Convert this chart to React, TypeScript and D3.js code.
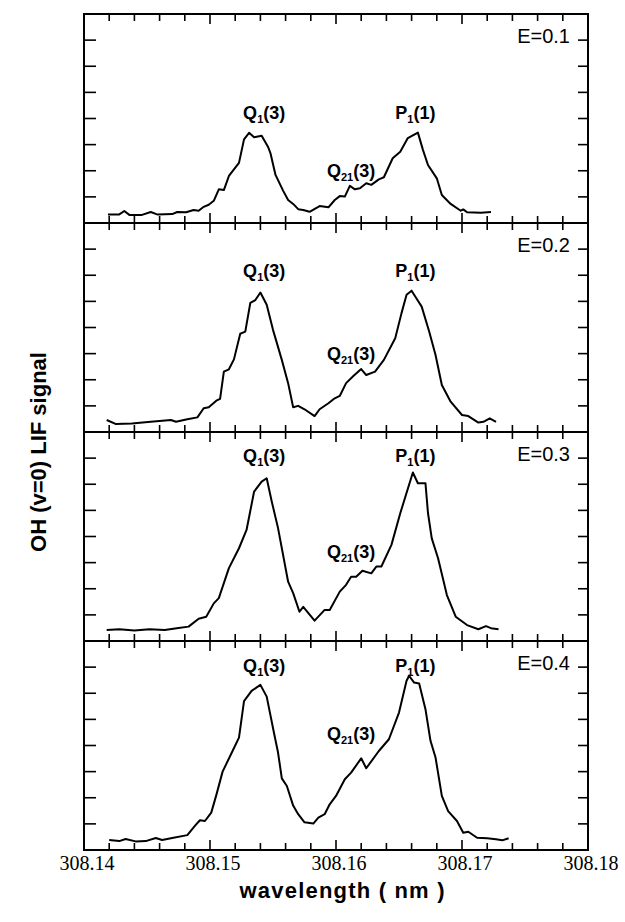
import React from 'react';
import * as d3 from 'd3';

// wavelength (nm) vs. OH (v=0) LIF signal, one panel per E
const energies = ['E=0.1', 'E=0.2', 'E=0.3', 'E=0.4'];
const wavelengthTicks = [308.14, 308.15, 308.16, 308.17, 308.18];

const panel1: [number, number][] = [
  [308.1419, 0.33], [308.1428, 0.33], [308.1432, 0.46], [308.1436, 0.31], [308.1446, 0.31],
  [308.1453, 0.42], [308.1458, 0.33], [308.1470, 0.34], [308.1474, 0.42], [308.1481, 0.41],
  [308.1487, 0.5], [308.1491, 0.47], [308.1495, 0.62], [308.1499, 0.7], [308.1503, 0.85],
  [308.1507, 1.29], [308.1511, 1.26], [308.1515, 1.8], [308.1523, 2.3], [308.1527, 3.2],
  [308.1531, 3.45], [308.1535, 3.28], [308.1541, 3.34], [308.1546, 2.92], [308.1548, 2.67],
  [308.1552, 1.84], [308.1558, 1.24], [308.1562, 0.88], [308.1566, 0.73], [308.1570, 0.53],
  [308.1574, 0.5], [308.1579, 0.43], [308.1587, 0.65], [308.1594, 0.6], [308.1599, 0.88],
  [308.1603, 1.03], [308.1607, 1.01], [308.1611, 1.42], [308.1615, 1.29], [308.1619, 1.33],
  [308.1624, 1.52], [308.1628, 1.46], [308.1634, 1.67], [308.1638, 1.75], [308.1645, 2.48],
  [308.1651, 2.73], [308.1657, 3.25], [308.1665, 3.46], [308.1669, 2.8], [308.1673, 2.22],
  [308.1680, 1.71], [308.1684, 1.07], [308.1691, 0.73], [308.1699, 0.47], [308.1701, 0.52],
  [308.1704, 0.41], [308.1715, 0.39], [308.1723, 0.42],
];

const panel2: [number, number][] = [
  [308.1418, 0.46], [308.1425, 0.31], [308.1438, 0.33], [308.1453, 0.39], [308.1469, 0.46],
  [308.1473, 0.39], [308.1482, 0.49], [308.1490, 0.56], [308.1495, 0.91], [308.1499, 0.95],
  [308.1505, 1.2], [308.1508, 1.27], [308.1511, 2.31], [308.1515, 2.4], [308.1519, 2.78],
  [308.1524, 3.76], [308.1528, 3.84], [308.1532, 4.94], [308.1536, 5.05], [308.1540, 5.34],
  [308.1545, 4.87], [308.1550, 3.91], [308.1557, 2.76], [308.1562, 1.87], [308.1566, 0.95],
  [308.1570, 1.0], [308.1575, 0.87], [308.1583, 0.61], [308.1587, 0.87], [308.1594, 1.1],
  [308.1599, 1.29], [308.1603, 1.38], [308.1608, 1.87], [308.1614, 2.15], [308.1620, 2.41],
  [308.1624, 2.18], [308.1631, 2.31], [308.1638, 2.76], [308.1647, 3.59], [308.1652, 4.55],
  [308.1656, 5.25], [308.1660, 5.41], [308.1663, 5.18], [308.1668, 4.8], [308.1674, 3.84],
  [308.1679, 2.95], [308.1684, 1.8], [308.1691, 1.16], [308.1700, 0.65], [308.1705, 0.61],
  [308.1713, 0.36], [308.1717, 0.39], [308.1722, 0.52], [308.1727, 0.39],
];

const panel3: [number, number][] = [
  [308.1418, 0.42], [308.1428, 0.45], [308.1440, 0.4], [308.1452, 0.45], [308.1464, 0.42],
  [308.1475, 0.5], [308.1483, 0.55], [308.1491, 0.85], [308.1497, 0.93], [308.1503, 1.44],
  [308.1507, 1.64], [308.1515, 2.79], [308.1523, 3.55], [308.1529, 4.25], [308.1535, 5.72],
  [308.1541, 6.1], [308.1545, 6.23], [308.1549, 5.34], [308.1554, 4.32], [308.1562, 2.27],
  [308.1566, 1.83], [308.1571, 1.12], [308.1574, 1.31], [308.1583, 0.78], [308.1591, 1.19],
  [308.1595, 1.19], [308.1603, 1.89], [308.1608, 2.15], [308.1612, 2.46], [308.1616, 2.46],
  [308.1621, 2.69], [308.1628, 2.59], [308.1632, 2.85], [308.1636, 2.85], [308.1644, 3.68],
  [308.1651, 4.89], [308.1661, 6.45], [308.1665, 6.04], [308.1671, 6.04], [308.1673, 4.9],
  [308.1676, 3.93], [308.1681, 3.17], [308.1688, 1.76], [308.1695, 0.93], [308.1704, 0.61],
  [308.1713, 0.45], [308.1719, 0.57], [308.1723, 0.49], [308.1729, 0.45],
];

const panel4: [number, number][] = [
  [308.1420, 0.38], [308.1428, 0.34], [308.1433, 0.42], [308.1441, 0.33], [308.1449, 0.34],
  [308.1457, 0.46], [308.1462, 0.38], [308.1470, 0.46], [308.1482, 0.57], [308.1488, 0.92],
  [308.1492, 1.14], [308.1496, 1.11], [308.1501, 1.43], [308.1505, 2.1], [308.1510, 3.0],
  [308.1518, 3.8], [308.1523, 4.3], [308.1527, 5.7], [308.1533, 6.09], [308.1540, 6.32],
  [308.1545, 5.87], [308.1551, 4.43], [308.1554, 3.73], [308.1557, 2.74], [308.1561, 2.45],
  [308.1566, 1.7], [308.1570, 1.37], [308.1575, 1.06], [308.1582, 1.01], [308.1586, 1.24],
  [308.1591, 1.37], [308.1595, 1.75], [308.1600, 2.07], [308.1607, 2.71], [308.1612, 2.96],
  [308.1620, 3.51], [308.1624, 3.13], [308.1634, 3.79], [308.1642, 4.24], [308.1650, 5.26],
  [308.1656, 6.48], [308.1658, 6.67], [308.1662, 6.41], [308.1666, 6.37], [308.1671, 5.39],
  [308.1675, 4.18], [308.1679, 3.54], [308.1684, 2.07], [308.1689, 1.49], [308.1696, 1.11],
  [308.1701, 0.66], [308.1705, 0.7], [308.1712, 0.47], [308.1720, 0.45], [308.1727, 0.41],
  [308.1732, 0.37], [308.1737, 0.45],
];

const spectra = [panel1, panel2, panel3, panel4];

// where the line labels sit (wavelength, signal)
const q1LabelX = 308.1543;
const p1LabelX = 308.1663;
const q21LabelX = 308.1612;
const peakLabelY = [3.98, 5.94, 6.86, 6.82];
const q21LabelY = [1.76, 2.76, 3.16, 4.22];

const W = 625;
const H = 922;
const left = 84;
const right = 588;
const top = 14;
const panelH = 209;

const sans = 'Liberation Sans, Arial, Helvetica, sans-serif';
const serif = 'Liberation Serif, Times New Roman, serif';

export default function App() {
  const x = d3.scaleLinear().domain([308.14, 308.18]).range([left, right]);
  const y = d3.scaleLinear().domain([0, 8]).range([panelH, 0]);
  const line = d3
    .line<[number, number]>()
    .x(d => x(d[0]))
    .y(d => y(d[1]));

  const minorTicks = x.ticks(20);
  const isMajor = (t: number) => wavelengthTicks.some(m => Math.abs(m - t) < 1e-6);
  const yTicks = d3.range(1, 8);
  const bottom = top + panelH * spectra.length;

  return (
    <svg width={W} height={H} style={{ position: 'absolute', left: 0, top: 0, background: '#fff' }}>
      {spectra.map((data, i) => (
        <g key={i} transform={`translate(0,${top + i * panelH})`}>
          <rect x={left} y={0} width={right - left} height={panelH} fill="none" stroke="#000" strokeWidth={2} />
          {minorTicks.map(t => {
            const len = isMajor(t) ? 10 : 7;
            return (
              <g key={t} stroke="#000" strokeWidth={1.6}>
                <line x1={x(t)} x2={x(t)} y1={0} y2={len} />
                <line x1={x(t)} x2={x(t)} y1={panelH} y2={panelH - len} />
              </g>
            );
          })}
          {yTicks.map(t => (
            <g key={t} stroke="#000" strokeWidth={1.6}>
              <line x1={left} x2={left + 12} y1={y(t)} y2={y(t)} />
              <line x1={right} x2={right - 10} y1={y(t)} y2={y(t)} />
            </g>
          ))}
          <path d={line(data) || ''} fill="none" stroke="#000" strokeWidth={2} strokeLinejoin="round" />
          <text x={right - 18} y={29} textAnchor="end" fontFamily={sans} fontSize={20}>
            {energies[i]}
          </text>
          <text x={x(q1LabelX)} y={y(peakLabelY[i])} textAnchor="middle" fontFamily={sans} fontWeight="bold" fontSize={18}>
            Q<tspan fontSize={11} dy={4}>1</tspan>
            <tspan dy={-4}>(3)</tspan>
          </text>
          <text x={x(p1LabelX)} y={y(peakLabelY[i])} textAnchor="middle" fontFamily={sans} fontWeight="bold" fontSize={18}>
            P<tspan fontSize={11} dy={4}>1</tspan>
            <tspan dy={-4}>(1)</tspan>
          </text>
          <text x={x(q21LabelX)} y={y(q21LabelY[i])} textAnchor="middle" fontFamily={sans} fontWeight="bold" fontSize={18}>
            Q<tspan fontSize={11} dy={4}>21</tspan>
            <tspan dy={-4}>(3)</tspan>
          </text>
        </g>
      ))}
      {wavelengthTicks.map(t => (
        <text key={t} x={x(t) + 3} y={bottom + 20} textAnchor="middle" fontFamily={serif} fontSize={20}>
          {t.toFixed(2)}
        </text>
      ))}
      <text
        x={342}
        y={898}
        textAnchor="middle"
        fontFamily={sans}
        fontWeight="bold"
        fontSize={22}
        textLength={205}
        lengthAdjust="spacing"
      >
        wavelength ( nm )
      </text>
      <text
        transform="translate(46,452) rotate(-90)"
        textAnchor="middle"
        fontFamily={sans}
        fontWeight="bold"
        fontSize={22}
      >
        OH (v=0) LIF signal
      </text>
    </svg>
  );
}
